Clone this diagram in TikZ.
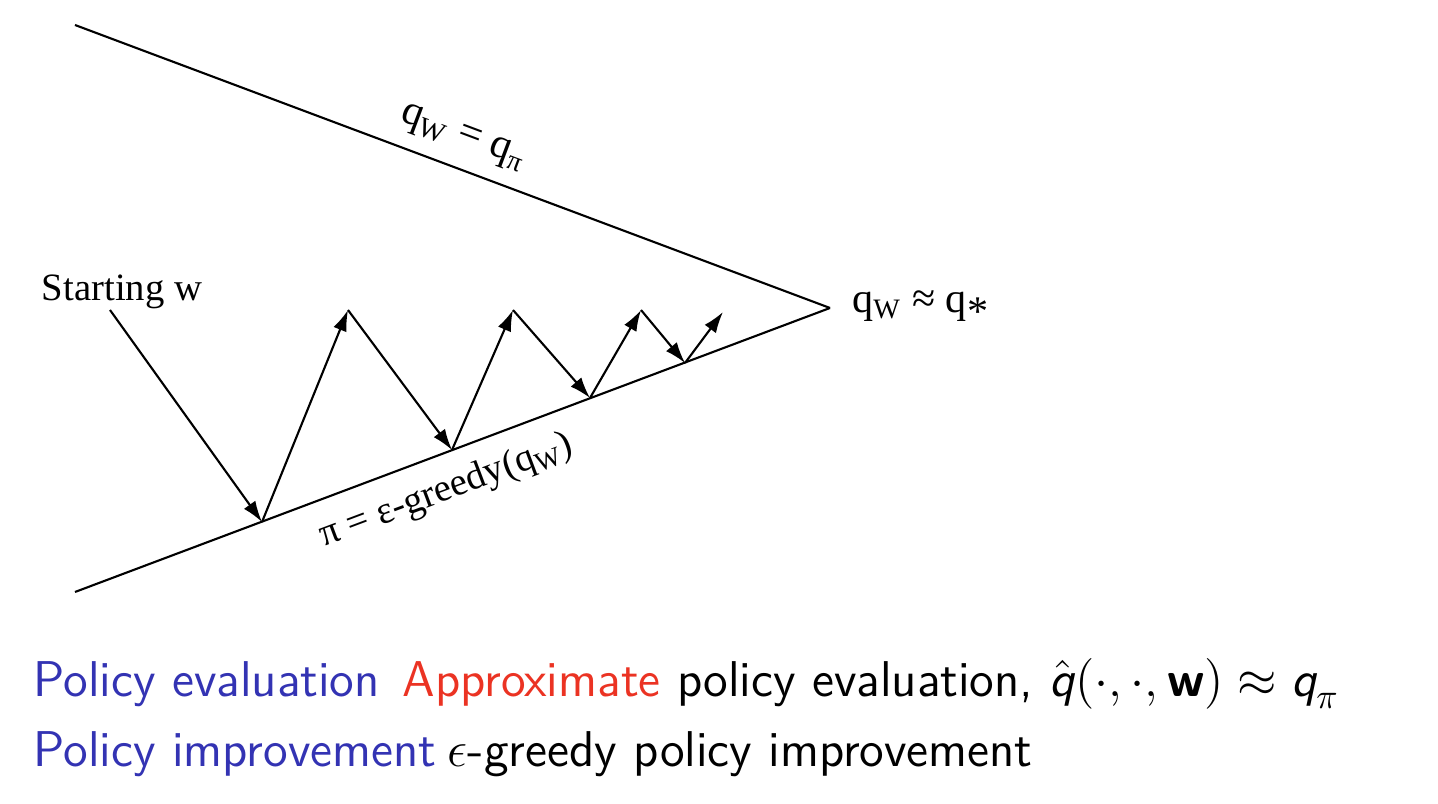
\documentclass[tikz,border=0pt]{standalone}
\usepackage{fontspec}
\setmainfont{Liberation Serif}
\usetikzlibrary{arrows.meta,positioning}
\definecolor{structblue}{RGB}{51,51,179}
\definecolor{alertred}{RGB}{235,51,35}
\tikzset{
	zig/.style={-{Latex[length=6pt,width=4pt]},line width=0.6pt},
	edge/.style={line width=0.6pt},
	lbl/.style={font=\fontsize{11}{13}\selectfont,inner sep=1pt},
	wlbl/.style={font=\fontsize{12}{14}\selectfont,inner sep=1pt},
	txt/.style={font=\fontsize{14.3}{17}\selectfont\sffamily,anchor=base west,inner sep=0pt}
}
\newcommand{\qw}{q\textsubscript{W}}
\newcommand{\sfq}{\mbox{\sffamily\itshape q}}
\begin{document}
\begin{tikzpicture}[x=0.01cm,y=-0.01cm]
	\useasboundingbox (0,0) rectangle (1438,804);
	% the wedge
	\coordinate (top) at (75,25);
	\coordinate (bot) at (75,592);
	\coordinate (apex) at (830,308);
	\draw[edge] (top) -- node[wlbl,sloped,above=3pt,pos=0.5] {\qw{} = q\textsubscript{π}} (apex);
	\draw[edge] (bot) -- node[lbl,sloped,below=4pt,pos=0.475] {π = ε-greedy(\qw)} (apex);
	\node[wlbl,right=0.18cm of apex] (qstar) {\qw{} ≈ q\textsubscript{\large *}};
	% zigzag
	\node[lbl] (start) at (122,292) {Starting w};
	\coordinate (z0) at (110,310);
	\coordinate (z1) at (262,522);
	\coordinate (z2) at (348,310);
	\coordinate (z3) at (452,450);
	\coordinate (z4) at (513,310);
	\coordinate (z5) at (590,398);
	\coordinate (z6) at (641,310);
	\coordinate (z7) at (685,363);
	\coordinate (z8) at (723,312);
	\foreach \a/\b in {z0/z1,z1/z2,z2/z3,z3/z4,z4/z5,z5/z6,z6/z7,z7/z8}
		\draw[zig] (\a) -- (\b);
	% description
	\node[txt,text=structblue] (evlabel) at (33,697) {Policy evaluation};
	\node[txt] (evtext) at (402,697) {\textcolor{alertred}{Approximate} policy evaluation, $\hat{\sfq}(\cdot,\cdot,\mbox{\sffamily\bfseries w}) \approx \sfq_\pi$};
	\node[txt,text=structblue] (imlabel) at (33,767) {Policy improvement};
	\node[txt] (imtext) at (447,767) {$\epsilon$-greedy policy improvement};
\end{tikzpicture}
\end{document}
